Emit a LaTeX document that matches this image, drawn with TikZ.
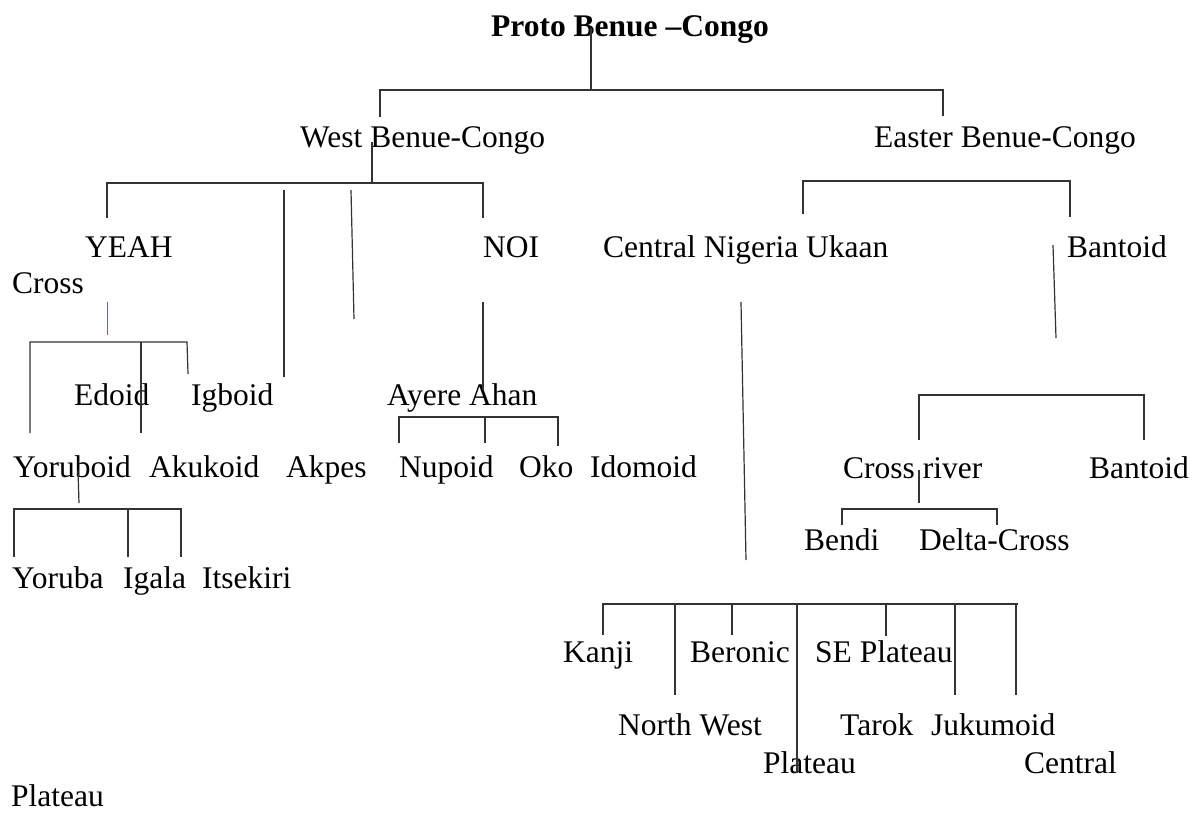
\documentclass[tikz,border=0pt]{standalone}
\usepackage{fontspec}
\setmainfont{Liberation Serif}
\definecolor{LineClr}{rgb}{0.2,0.2,0.2}
\definecolor{CrossClr}{rgb}{0.27,0.45,0.8}
\tikzset{
  lang/.style={anchor=base west,inner sep=0pt,font=\fontsize{31.5}{36}\selectfont},
  root/.style={lang,font=\fontsize{31.5}{36}\selectfont\bfseries},
  branch/.style={line width=1.2pt,color=LineClr}
}

\begin{document}
\begin{tikzpicture}[x=1pt,y=-1pt]
\useasboundingbox (0,0) rectangle (1195,812);

\node[root] (pbc) at (491,36) {Proto Benue –Congo};

\node[lang] (wbc) at (300,147) {West Benue-Congo};
\node[lang] (ebc) at (874,147) {Easter Benue-Congo};

\node[lang] (yeah) at (85,257) {YEAH};
\node[lang] (noi) at (483,257) {NOI};
\node[lang] (cnu) at (603,257) {Central Nigeria Ukaan};
\node[lang] (bant) at (1067,257) {Bantoid};
\node[lang] (cross) at (12,293) {Cross};

\node[lang] (edoid) at (74,405) {Edoid};
\node[lang] (igboid) at (191,405) {Igboid};
\node[lang] (ayere) at (387,405) {Ayere Ahan};

\node[lang] (yoruboid) at (13,477) {Yoruboid};
\node[lang] (akukoid) at (149,477) {Akukoid};
\node[lang] (akpes) at (286,477) {Akpes};
\node[lang] (nupoid) at (399,477) {Nupoid};
\node[lang] (oko) at (519,477) {Oko};
\node[lang] (idomoid) at (590,477) {Idomoid};
\node[lang] (crossr) at (843,478) {Cross river};
\node[lang] (bantb) at (1089,478) {Bantoid};

\node[lang] (bendi) at (804,550) {Bendi};
\node[lang] (delta) at (919,550) {Delta-Cross};

\node[lang] (yoruba) at (12,588) {Yoruba};
\node[lang] (igala) at (123,588) {Igala};
\node[lang] (itsekiri) at (202,588) {Itsekiri};

\node[lang] (kanji) at (563,662) {Kanji};
\node[lang] (beronic) at (690,662) {Beronic};
\node[lang] (seplat) at (815,662) {SE Plateau};
\node[lang] (nwest) at (618,735) {North West};
\node[lang] (tarok) at (840,735) {Tarok};
\node[lang] (jukumoid) at (931,735) {Jukumoid};
\node[lang] (plat) at (763,773) {Plateau};
\node[lang] (central) at (1024,773) {Central};
\node[lang] (platb) at (11,806) {Plateau};

\draw[branch] (591,28) -- (591,90);
\draw[branch] (380,117) -- (380,90) -- (943,90) -- (943,116);

\draw[branch] (372,142) -- (372,183);
\draw[branch] (107,218) -- (107,183) -- (483,183) -- (483,218);
\draw[branch] (284,190) -- (284,377);
\draw[branch] (351,190) -- (354,319);

\draw[line width=1pt,color=CrossClr] (107,302) -- (107,335);
\draw[branch] (30,433) -- (30,342) -- (187,342) -- (188,374);
\draw[branch] (141,342) -- (141,433);

\draw[branch] (78,470) -- (79,503);
\draw[branch] (14,557) -- (14,509) -- (181,509) -- (181,557);
\draw[branch] (128,509) -- (128,557);

\draw[branch] (483,302) -- (483,390);
\draw[branch] (399,443) -- (399,417) -- (558,417) -- (558,446);
\draw[branch] (485,417) -- (485,443);

\draw[branch] (803,214) -- (803,181) -- (1070,181) -- (1070,217);
\draw[branch] (1053,245) -- (1056,338);
\draw[branch] (919,440) -- (919,395) -- (1144,395) -- (1144,440);
\draw[branch] (919,470) -- (919,503);
\draw[branch] (842,525) -- (842,509) -- (997,509) -- (997,525);

\draw[branch] (741,302) -- (746,560);
\draw[branch] (603,635) -- (603,604) -- (1018,604);
\draw[branch] (675,604) -- (675,695);
\draw[branch] (732,604) -- (732,635);
\draw[branch] (797,604) -- (797,773);
\draw[branch] (886,604) -- (886,636);
\draw[branch] (955,604) -- (955,695);
\draw[branch] (1016,604) -- (1016,695);

\end{tikzpicture}
\end{document}
